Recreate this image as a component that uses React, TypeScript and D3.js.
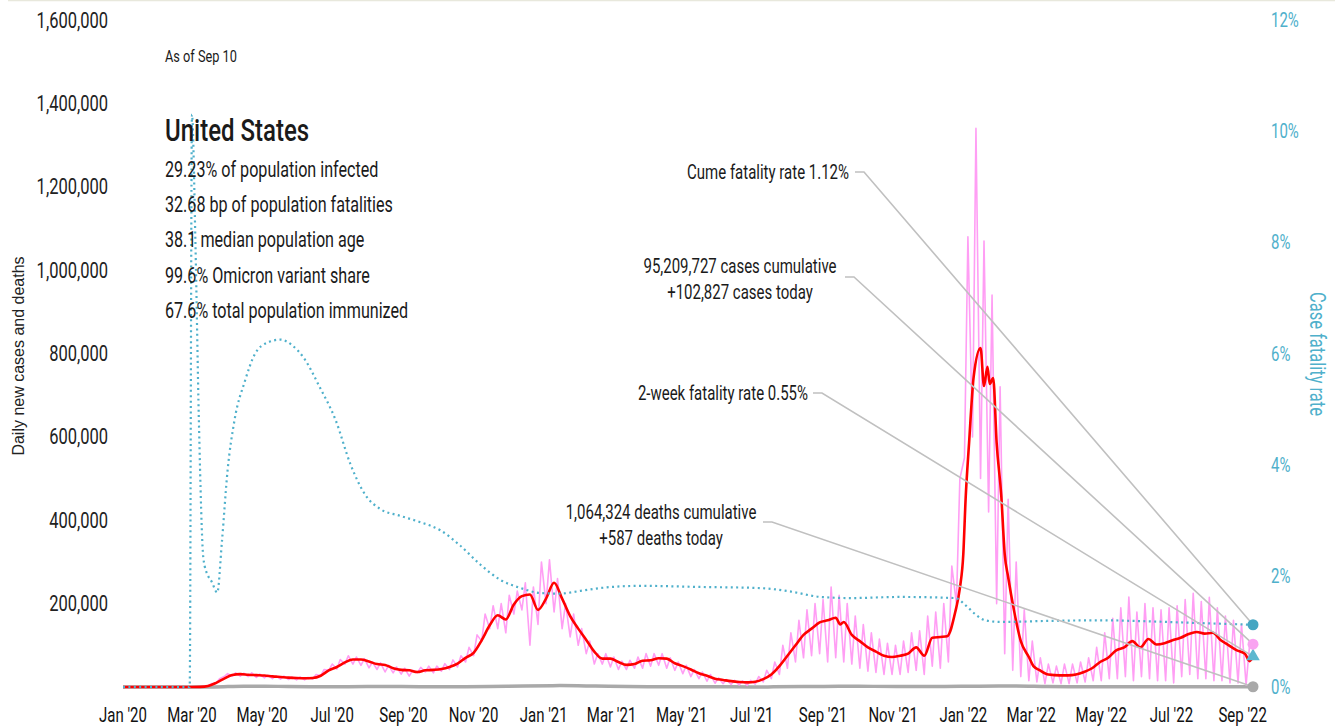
import React, { useEffect, useRef } from "react";
import * as d3 from "d3";

// 7-day average of new cases (red)
const avgCases: [string, number][] = [
  ["2020-01-01", 0], ["2020-03-01", 0], ["2020-03-08", 300], ["2020-03-15", 2500],
  ["2020-03-22", 10000], ["2020-03-29", 20000], ["2020-04-05", 29000], ["2020-04-12", 31000],
  ["2020-04-19", 29500], ["2020-04-26", 28500], ["2020-05-03", 27500], ["2020-05-10", 25500],
  ["2020-05-17", 24000], ["2020-05-24", 22500], ["2020-05-31", 21500], ["2020-06-07", 21000],
  ["2020-06-14", 21500], ["2020-06-21", 27000], ["2020-06-28", 40000], ["2020-07-05", 48000],
  ["2020-07-12", 59000], ["2020-07-19", 66000], ["2020-07-26", 66000], ["2020-08-02", 61000],
  ["2020-08-09", 55000], ["2020-08-16", 53000], ["2020-08-23", 45000], ["2020-08-30", 41000],
  ["2020-09-06", 40000], ["2020-09-13", 36000], ["2020-09-20", 40000], ["2020-09-27", 41000],
  ["2020-10-04", 43000], ["2020-10-11", 48000], ["2020-10-18", 56000], ["2020-10-25", 70000],
  ["2020-11-01", 82000], ["2020-11-08", 112000], ["2020-11-15", 148000], ["2020-11-22", 172000],
  ["2020-11-29", 162000], ["2020-12-06", 198000], ["2020-12-13", 218000], ["2020-12-20", 222000],
  ["2020-12-27", 185000], ["2021-01-03", 212000], ["2021-01-10", 250000], ["2021-01-17", 212000],
  ["2021-01-24", 170000], ["2021-01-31", 140000], ["2021-02-07", 113000], ["2021-02-14", 85000],
  ["2021-02-21", 68000], ["2021-02-28", 68000], ["2021-03-07", 60000], ["2021-03-14", 53000],
  ["2021-03-21", 55000], ["2021-03-28", 63000], ["2021-04-04", 64000], ["2021-04-11", 69000],
  ["2021-04-18", 68000], ["2021-04-25", 57000], ["2021-05-02", 50000], ["2021-05-09", 42000],
  ["2021-05-16", 33000], ["2021-05-23", 27000], ["2021-05-30", 20000], ["2021-06-06", 17000],
  ["2021-06-13", 14000], ["2021-06-20", 12000], ["2021-06-27", 11000], ["2021-07-04", 12500],
  ["2021-07-11", 19000], ["2021-07-18", 30000], ["2021-07-25", 50000], ["2021-08-01", 75000],
  ["2021-08-08", 100000], ["2021-08-15", 125000], ["2021-08-22", 140000], ["2021-08-29", 155000],
  ["2021-09-05", 160000], ["2021-09-12", 166000], ["2021-09-16", 150000], ["2021-09-19", 156000],
  ["2021-09-26", 125000], ["2021-10-03", 110000], ["2021-10-10", 95000], ["2021-10-17", 85000],
  ["2021-10-24", 75000], ["2021-10-31", 72000], ["2021-11-07", 75000], ["2021-11-14", 80000],
  ["2021-11-21", 95000], ["2021-11-28", 75000], ["2021-12-05", 118000], ["2021-12-12", 120000],
  ["2021-12-18", 122000], ["2021-12-25", 180000], ["2021-12-29", 237000], ["2022-01-01", 319000],
  ["2022-01-03", 451000], ["2022-01-06", 585000], ["2022-01-10", 744000], ["2022-01-16", 813000],
  ["2022-01-19", 722000], ["2022-01-22", 768000], ["2022-01-24", 727000], ["2022-01-27", 741000],
  ["2022-01-30", 585000], ["2022-02-03", 460000], ["2022-02-06", 319000], ["2022-02-09", 264000],
  ["2022-02-14", 185000], ["2022-02-20", 110000], ["2022-02-27", 72000], ["2022-03-03", 50000],
  ["2022-03-08", 41000], ["2022-03-16", 30000], ["2022-03-26", 28000], ["2022-04-02", 28000],
  ["2022-04-09", 30000], ["2022-04-16", 36000], ["2022-04-23", 45000], ["2022-04-30", 60000],
  ["2022-05-07", 70000], ["2022-05-14", 88000], ["2022-05-21", 95000], ["2022-05-28", 110000],
  ["2022-06-04", 95000], ["2022-06-11", 115000], ["2022-06-18", 102000], ["2022-06-25", 105000],
  ["2022-07-02", 112000], ["2022-07-09", 118000], ["2022-07-16", 127000], ["2022-07-23", 132000],
  ["2022-07-30", 128000], ["2022-08-06", 130000], ["2022-08-13", 112000], ["2022-08-20", 100000],
  ["2022-08-27", 88000], ["2022-09-03", 80000], ["2022-09-07", 62000], ["2022-09-10", 72000],
];

// daily new cases (pink): weekly low (Sunday) and high (midweek), thousands, weeks from 2020-03-01
const rawWeekStart = "2020-03-01";
const rawLowK = [
  // 2020
  0, 0.5, 3, 9, 25, 26, 26, 25, 23, 22, 20, 19, 18, 17, 17, 19, 27, 40, 43, 55, 55, 52,
  46, 42, 36, 34, 31, 26, 34, 36, 34, 38, 42, 48, 60, 75, 110, 140, 140, 130, 175, 185, 100, 150,
  // 2021
  200, 180, 140, 120, 100, 80, 55, 55, 48, 42, 42, 45, 45, 50, 52, 45, 40, 32, 25, 20, 14, 9,
  8, 6, 5, 4, 7, 12, 20, 30, 45, 60, 70, 75, 80, 60, 70, 60, 55, 45, 38, 35, 30, 30, 30, 35,
  40, 30, 50, 45, 60, 200,
  // 2022
  550, 600, 500, 420, 200, 80, 40, 25, 15, 12, 8, 10, 8, 8, 10, 12, 15, 15, 20, 20, 25, 15,
  25, 20, 15, 15, 10, 25, 30, 20, 20, 15, 15, 10, 10, 5,
];
const rawHighK = [
  // 2020
  0.5, 1, 8, 20, 32, 34, 33, 34, 31, 28, 27, 26, 24, 24, 23, 30, 42, 55, 66, 75, 72, 68,
  60, 58, 52, 48, 45, 40, 47, 50, 50, 56, 65, 75, 95, 125, 175, 195, 200, 220, 230, 250, 240, 300,
  // 2021
  305, 260, 200, 175, 140, 110, 80, 80, 72, 62, 64, 72, 80, 80, 80, 70, 60, 52, 42, 36, 30, 22,
  18, 16, 15, 16, 25, 40, 60, 100, 130, 160, 185, 200, 210, 240, 220, 200, 170, 150, 130, 115,
  105, 100, 110, 130, 135, 170, 180, 200, 290, 500,
  // 2022
  1080, 1340, 1070, 940, 720, 450, 300, 185, 110, 70, 55, 50, 55, 55, 60, 70, 95, 130, 165, 190,
  216, 180, 200, 190, 185, 190, 195, 210, 225, 205, 215, 190, 170, 160, 150, 100,
];

// daily deaths (gray)
const deaths: [string, number][] = [
  ["2020-01-01", 0], ["2020-03-01", 0], ["2020-03-20", 200], ["2020-04-15", 2100],
  ["2020-05-15", 1500], ["2020-06-15", 700], ["2020-07-15", 800], ["2020-08-15", 1050],
  ["2020-09-15", 750], ["2020-10-15", 750], ["2020-11-15", 1300], ["2020-12-15", 2600],
  ["2021-01-15", 3300], ["2021-02-15", 2300], ["2021-03-15", 1100], ["2021-04-15", 700],
  ["2021-05-15", 600], ["2021-06-15", 320], ["2021-07-15", 280], ["2021-08-15", 1000],
  ["2021-09-15", 1950], ["2021-10-15", 1500], ["2021-11-15", 1100], ["2021-12-15", 1300],
  ["2022-01-15", 2100], ["2022-02-15", 2300], ["2022-03-15", 1000], ["2022-04-15", 450],
  ["2022-05-15", 330], ["2022-06-15", 320], ["2022-07-15", 420], ["2022-08-15", 480],
  ["2022-09-10", 587],
];

// case fatality rate, % (teal dotted, right axis)
const cfr: [string, number][] = [
  ["2020-01-01", 0], ["2020-02-28", 0], ["2020-03-01", 10.3], ["2020-03-04", 8.0],
  ["2020-03-07", 4.8], ["2020-03-11", 2.3], ["2020-03-15", 2.0], ["2020-03-18", 1.9],
  ["2020-03-23", 1.7], ["2020-03-27", 2.6], ["2020-04-01", 3.9], ["2020-04-07", 4.8],
  ["2020-04-16", 5.5], ["2020-04-25", 6.0], ["2020-05-06", 6.2], ["2020-05-17", 6.25],
  ["2020-05-27", 6.15], ["2020-06-07", 5.9], ["2020-06-20", 5.4], ["2020-07-04", 4.8],
  ["2020-07-17", 4.0], ["2020-07-30", 3.45], ["2020-08-12", 3.2], ["2020-08-29", 3.08],
  ["2020-09-15", 2.97], ["2020-10-03", 2.82], ["2020-10-20", 2.55], ["2020-11-07", 2.2],
  ["2020-11-24", 1.93], ["2020-12-12", 1.78], ["2020-12-29", 1.69], ["2021-01-15", 1.68],
  ["2021-02-02", 1.73], ["2021-02-19", 1.78], ["2021-03-26", 1.82], ["2021-05-17", 1.8],
  ["2021-07-08", 1.78], ["2021-08-03", 1.72], ["2021-08-30", 1.62], ["2021-09-25", 1.6],
  ["2021-11-07", 1.62], ["2021-12-25", 1.6], ["2022-01-03", 1.47], ["2022-01-12", 1.3],
  ["2022-01-20", 1.2], ["2022-02-02", 1.17], ["2022-03-18", 1.19], ["2022-04-30", 1.2],
  ["2022-06-13", 1.18], ["2022-07-26", 1.15], ["2022-09-10", 1.12],
];

const endDate = "2022-09-10";
const cumeCfr = 1.12;
const twoWeekCfr = 0.55;
const casesToday = 102827;
const deathsToday = 587;

const leftTicks = [200000, 400000, 600000, 800000, 1000000, 1200000, 1400000, 1600000];
const rightTicks = [0, 2, 4, 6, 8, 10, 12];

const asOf = "As of Sep 10";
const country = "United States";
const statLines = [
  "29.23% of population infected",
  "32.68 bp of population fatalities",
  "38.1 median population age",
  "99.6% Omicron variant share",
  "67.6% total population immunized",
];

// no condensed face is installed, so Roboto gets squeezed horizontally
const FONT = "Roboto, 'Liberation Sans', sans-serif";
const SQUEEZE = 0.75;
const TEAL = "#4fb0cb";

const App: React.FC = () => {
  const ref = useRef<SVGSVGElement | null>(null);

  useEffect(() => {
    if (!ref.current) return;
    const svg = d3.select(ref.current);
    svg.selectAll("*").remove();

    const parse = d3.utcParse("%Y-%m-%d");
    const x = d3
      .scaleUtc()
      .domain([parse("2020-01-01")!, parse(endDate)!])
      .range([123, 1253]);
    const yL = d3.scaleLinear().domain([0, 1600000]).range([687, 20]);
    const yR = d3.scaleLinear().domain([0, 12]).range([687, 20]);

    const txt = (
      xx: number,
      yy: number,
      s: string,
      anchor: string,
      size: number,
      fill = "#1a1a1a",
      rot = 0
    ) =>
      svg.append("text")
        .attr("transform", `translate(${xx},${yy}) rotate(${rot}) scale(${SQUEEZE},1)`)
        .attr("text-anchor", anchor)
        .style("font-family", FONT)
        .style("font-size", `${size}px`)
        .attr("fill", fill)
        .text(s);

    // top rule
    svg.append("line")
      .attr("x1", 8).attr("x2", 1335).attr("y1", 0.5).attr("y2", 0.5)
      .attr("stroke", "#e8e8dc").attr("stroke-width", 1.5);

    // left axis labels
    leftTicks.forEach((t) => txt(108, yL(t) + 7.5, d3.format(",")(t), "end", 22, "#222"));

    // right axis labels
    rightTicks.forEach((t) => txt(1271, yR(t) + 7, `${t}%`, "start", 20, TEAL));

    // x axis labels
    const fmtMon = d3.utcFormat("%b");
    const fmtYr = d3.utcFormat("%y");
    x.ticks(d3.utcMonth.every(2)!).forEach((d) =>
      txt(x(d), 722, `${fmtMon(d)} '${fmtYr(d)}`, "middle", 20, "#111")
    );

    // axis titles
    svg.append("text")
      .attr("transform", "translate(24,356) rotate(-90)")
      .attr("text-anchor", "middle")
      .style("font-family", "'Liberation Sans', Arial, sans-serif")
      .style("font-size", "16px")
      .attr("fill", "#222")
      .text("Daily new cases and deaths");
    txt(1310, 354, "Case fatality rate", "middle", 22, TEAL, 90);

    // raw daily cases points
    const weekStart = parse(rawWeekStart)!;
    const rawPts: [Date, number][] = [[parse("2020-01-01")!, 0]];
    rawLowK.forEach((lo, i) => {
      const d0 = d3.utcDay.offset(weekStart, i * 7);
      rawPts.push([d0, lo * 1000]);
      rawPts.push([d3.utcDay.offset(d0, 3), rawHighK[i] * 1000]);
    });
    rawPts.push([parse(endDate)!, casesToday]);

    const toPts = (arr: [string, number][]) =>
      arr.map(([d, v]) => [parse(d)!, v] as [Date, number]);
    const lineL = d3.line<[Date, number]>().x((d) => x(d[0])).y((d) => yL(d[1]));
    const lineR = d3.line<[Date, number]>().x((d) => x(d[0])).y((d) => yR(d[1]));

    // deaths
    svg.append("path")
      .attr("d", lineL.curve(d3.curveMonotoneX)(toPts(deaths)))
      .attr("fill", "none")
      .attr("stroke", "#a9a9a9")
      .attr("stroke-width", 3.5);

    // raw cases
    svg.append("path")
      .attr("d", lineL.curve(d3.curveLinear)(rawPts))
      .attr("fill", "none")
      .attr("stroke", "#ff9ef4")
      .attr("stroke-width", 1.6)
      .attr("stroke-linejoin", "round");

    // 7-day average
    svg.append("path")
      .attr("d", lineL.curve(d3.curveMonotoneX)(toPts(avgCases)))
      .attr("fill", "none")
      .attr("stroke", "#ff0000")
      .attr("stroke-width", 2.6)
      .attr("stroke-linejoin", "round");

    // case fatality rate
    svg.append("path")
      .attr("d", lineR.curve(d3.curveMonotoneX)(toPts(cfr)))
      .attr("fill", "none")
      .attr("stroke", TEAL)
      .attr("stroke-width", 2.2)
      .attr("stroke-dasharray", "2 3.4");

    // header block
    txt(165, 62, asOf, "start", 17);
    txt(165, 141, country, "start", 32).style("font-weight", 500);
    statLines.forEach((s, i) => txt(165, 177 + i * 35.2, s, "start", 21.5));

    // annotations with leader lines to the end markers
    const xe = x(parse(endDate)!);
    const notes = [
      { lines: ["Cume fatality rate 1.12%"], tx: 849, ty: 179, anchor: "end", sx: 855, sy: 172, target: yR(cumeCfr) },
      { lines: ["95,209,727 cases cumulative", "+102,827 cases today"], tx: 740, ty: 273, anchor: "middle", sx: 845, sy: 277, target: yL(casesToday) },
      { lines: ["2-week fatality rate 0.55%"], tx: 808, ty: 400, anchor: "end", sx: 813, sy: 393, target: yR(twoWeekCfr) },
      { lines: ["1,064,324 deaths cumulative", "+587 deaths today"], tx: 661, ty: 519, anchor: "middle", sx: 763, sy: 522, target: yL(deathsToday) },
    ];
    notes.forEach((n) => {
      n.lines.forEach((s, i) => txt(n.tx, n.ty + i * 26, s, n.anchor, 20));
      svg.append("path")
        .attr("d", `M${n.sx},${n.sy}H${n.sx + 9}L${xe},${n.target}`)
        .attr("fill", "none")
        .attr("stroke", "#c0c0c0")
        .attr("stroke-width", 1.6);
    });

    // end markers
    svg.append("circle").attr("cx", xe).attr("cy", yL(deathsToday)).attr("r", 5.5).attr("fill", "#a9a9a9");
    svg.append("path")
      .attr("d", d3.symbol(d3.symbolTriangle, 80)())
      .attr("transform", `translate(${xe},${yR(twoWeekCfr)})`)
      .attr("fill", "#5cb8cf");
    svg.append("circle").attr("cx", xe).attr("cy", yL(casesToday)).attr("r", 5.5).attr("fill", "#f9a3f1");
    svg.append("circle").attr("cx", xe).attr("cy", yR(cumeCfr)).attr("r", 5.5).attr("fill", "#45a6c2");
  }, []);

  return (
    <svg
      ref={ref}
      width={1335}
      height={726}
      style={{ position: "absolute", left: 0, top: 0, background: "#fff" }}
    ></svg>
  );
};

export default App;
